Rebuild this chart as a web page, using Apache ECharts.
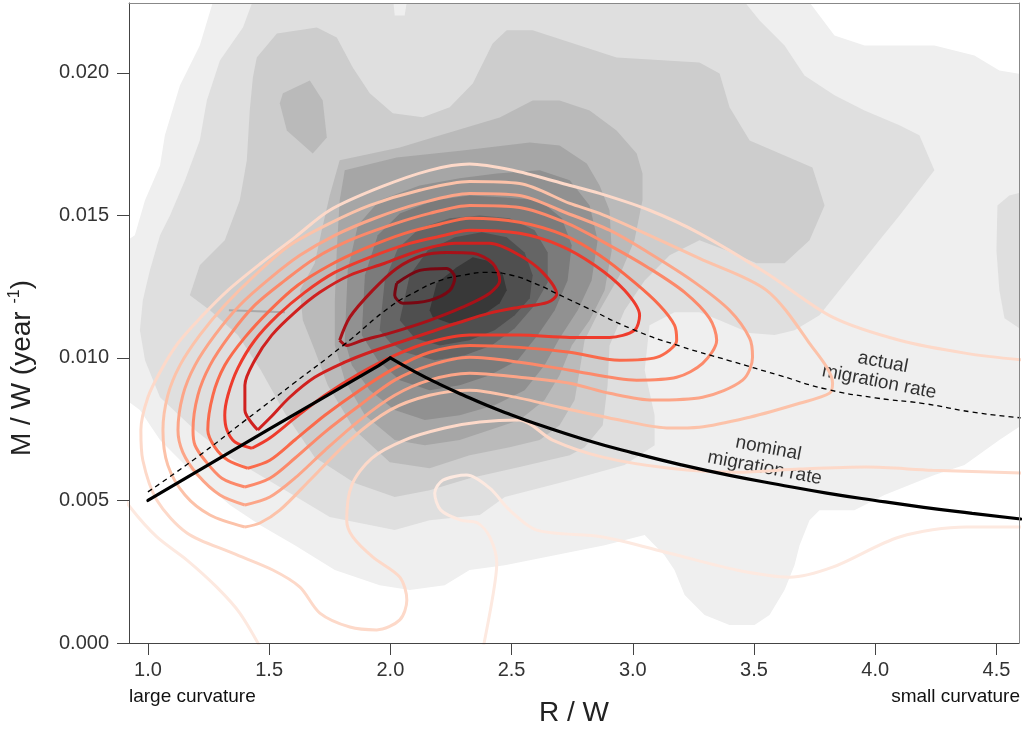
<!DOCTYPE html>
<html>
<head>
<meta charset="utf-8">
<title>Migration rate vs R/W</title>
<script src="https://cdn.jsdelivr.net/npm/echarts@6/dist/echarts.min.js"></script>
<style>
html, body { margin: 0; padding: 0; background: #fff; }
#chart { width: 1027px; height: 732px; }
</style>
</head>
<body>
<div id="chart"></div>
<script>
var xTicks = [1.0, 1.5, 2.0, 2.5, 3.0, 3.5, 4.0, 4.5];
var yTicks = [0, 0.005, 0.010, 0.015, 0.020];

// nominal (solid) and actual (dashed) migration rate
var nominalRW = [1.0, 1.5, 1.95, 2.0, 2.1, 2.2, 2.3, 2.4, 2.5, 2.6, 2.8, 3.0, 3.2, 3.4, 3.6, 3.8, 4.0, 4.2, 4.4, 4.6];
var nominalRate = [0.0050, 0.0075, 0.00972, 0.0100, 0.00952, 0.00909, 0.00870, 0.00833, 0.00800, 0.00769, 0.00714, 0.00667, 0.00625, 0.00588, 0.00556, 0.00526, 0.00500, 0.00476, 0.00455, 0.00435];
var actualRW = [1.0, 1.2, 1.4, 1.6, 1.8, 2.0, 2.1, 2.2, 2.3, 2.4, 2.5, 2.6, 2.7, 2.8, 3.0, 3.2, 3.4, 3.6, 3.8, 4.0, 4.2, 4.4, 4.6];
var actualRate = [0.0053, 0.0065, 0.0078, 0.0091, 0.0104, 0.0118, 0.0123, 0.0127, 0.0129, 0.0130, 0.0129, 0.0126, 0.0122, 0.0118, 0.0110, 0.0104, 0.0099, 0.0094, 0.0089, 0.0086, 0.0084, 0.0081, 0.0079];

// filled gray density levels (outer -> inner)
var gray1 = [[1.276,0.02271],[3.708,0.02271],[3.832,0.02131],[3.956,0.02096],[4.244,0.02096],[4.409,0.02061],[4.512,0.02008],[4.636,0.01991],[4.636,0.00782],[4.512,0.00712],[4.368,0.00624],[4.244,0.00589],[4.038,0.00519],[3.914,0.00466],[3.770,0.00466],[3.729,0.00431],[3.688,0.00343],[3.667,0.00273],[3.626,0.00186],[3.564,0.00098],[3.502,0.00063],[3.399,0.00063],[3.296,0.00098],[3.214,0.00168],[3.172,0.00256],[3.131,0.00308],[3.069,0.00361],[3.049,0.00379],[2.884,0.00343],[2.678,0.00308],[2.472,0.00273],[2.327,0.00256],[2.224,0.00203],[2.080,0.00186],[1.956,0.00203],[1.771,0.00256],[1.606,0.00343],[1.462,0.00414],[1.338,0.00484],[1.194,0.00589],[1.050,0.00712],[0.967,0.00817],[0.885,0.00869],[0.885,0.01395],[0.946,0.01430],[0.988,0.01553],[1.050,0.01675],[1.070,0.01781],[1.132,0.01956],[1.214,0.02096]];
var gray2a = [[1.441,0.02271],[2.010,0.02271],[2.018,0.02201],[2.059,0.02201],[2.072,0.02271],[3.440,0.02271],[3.523,0.02184],[3.626,0.02096],[3.708,0.01991],[3.832,0.01921],[3.956,0.01868],[4.100,0.01816],[4.182,0.01781],[4.244,0.01658],[4.100,0.01500],[4.017,0.01413],[3.935,0.01325],[3.852,0.01237],[3.770,0.01150],[3.667,0.01097],[3.585,0.01080],[3.482,0.01087],[3.358,0.01132],[3.275,0.01160],[3.172,0.01160],[3.069,0.01115],[3.049,0.00957],[3.090,0.00799],[3.090,0.00694],[2.966,0.00624],[2.740,0.00571],[2.472,0.00512],[2.369,0.00449],[2.162,0.00431],[2.018,0.00396],[1.750,0.00442],[1.544,0.00547],[1.338,0.00652],[1.194,0.00747],[1.050,0.00862],[0.988,0.00992],[0.967,0.01097],[0.979,0.01202],[1.008,0.01307],[1.050,0.01430],[1.091,0.01500],[1.153,0.01623],[1.214,0.01763],[1.243,0.01903],[1.297,0.02043],[1.392,0.02159]];
var gray2b = [[4.500,0.01377],[4.504,0.01535],[4.553,0.01570],[4.636,0.01588],[4.636,0.01080],[4.533,0.01139],[4.512,0.01237]];
var gray3 = [[1.433,0.01984],[1.449,0.02054],[1.532,0.02138],[1.697,0.02159],[1.779,0.02124],[1.845,0.02019],[1.915,0.01928],[2.010,0.01858],[2.134,0.01844],[2.245,0.01879],[2.340,0.01963],[2.422,0.02103],[2.480,0.02149],[2.587,0.02149],[2.933,0.02054],[3.275,0.02036],[3.358,0.01998],[3.399,0.01879],[3.482,0.01763],[3.741,0.01668],[3.791,0.01535],[3.729,0.01413],[3.626,0.01332],[3.510,0.01332],[3.387,0.01377],[3.275,0.01413],[3.152,0.01360],[3.049,0.01272],[2.966,0.01167],[2.904,0.01044],[2.896,0.00904],[2.876,0.00764],[2.801,0.00687],[2.740,0.00659],[2.533,0.00617],[2.327,0.00578],[2.162,0.00536],[2.018,0.00512],[1.853,0.00561],[1.688,0.00652],[1.565,0.00806],[1.466,0.00957],[1.371,0.01080],[1.256,0.01167],[1.173,0.01220],[1.214,0.01325],[1.317,0.01413],[1.379,0.01553],[1.408,0.01693],[1.420,0.01868]];
var gray4a = [[1.791,0.01693],[2.039,0.01738],[2.175,0.01773],[2.451,0.01843],[2.587,0.01903],[2.698,0.01903],[2.822,0.01868],[2.933,0.01798],[3.016,0.01717],[3.040,0.01647],[3.040,0.01553],[3.007,0.01413],[2.946,0.01290],[2.863,0.01167],[2.801,0.01062],[2.781,0.00957],[2.760,0.00852],[2.698,0.00764],[2.616,0.00712],[2.492,0.00687],[2.327,0.00659],[2.162,0.00613],[1.998,0.00634],[1.853,0.00747],[1.742,0.00904],[1.688,0.01027],[1.639,0.01132],[1.627,0.01237],[1.688,0.01332],[1.717,0.01448],[1.750,0.01570]];
var gray4b = [[1.557,0.01928],[1.668,0.01973],[1.721,0.01903],[1.738,0.01773],[1.680,0.01717],[1.573,0.01798],[1.544,0.01893]];
var gray5 = [[1.812,0.01658],[2.026,0.01703],[2.298,0.01728],[2.575,0.01756],[2.698,0.01745],[2.810,0.01682],[2.863,0.01605],[2.904,0.01518],[2.913,0.01377],[2.884,0.01237],[2.822,0.01132],[2.748,0.01044],[2.698,0.00939],[2.636,0.00852],[2.533,0.00782],[2.410,0.00747],[2.286,0.00712],[2.142,0.00694],[2.018,0.00712],[1.895,0.00799],[1.812,0.00922],[1.771,0.01044],[1.771,0.01202],[1.779,0.01377],[1.791,0.01553]];
var gray6 = [[1.812,0.01062],[1.824,0.01307],[1.866,0.01465],[1.956,0.01553],[2.121,0.01605],[2.286,0.01630],[2.439,0.01647],[2.616,0.01658],[2.740,0.01623],[2.822,0.01535],[2.855,0.01413],[2.830,0.01272],[2.773,0.01167],[2.698,0.01069],[2.636,0.00974],[2.554,0.00887],[2.430,0.00834],[2.286,0.00799],[2.142,0.00782],[2.018,0.00817],[1.915,0.00887],[1.841,0.00974]];
var gray7 = [[1.882,0.01080],[1.895,0.01290],[1.948,0.01430],[2.039,0.01507],[2.183,0.01553],[2.327,0.01570],[2.472,0.01563],[2.616,0.01553],[2.707,0.01490],[2.748,0.01395],[2.731,0.01272],[2.678,0.01167],[2.608,0.01080],[2.525,0.00992],[2.410,0.00939],[2.286,0.00904],[2.162,0.00887],[2.039,0.00922],[1.948,0.00992]];
var gray8 = [[1.956,0.01097],[1.977,0.01272],[2.031,0.01384],[2.121,0.01455],[2.245,0.01490],[2.369,0.01500],[2.492,0.01490],[2.595,0.01448],[2.649,0.01370],[2.649,0.01265],[2.595,0.01185],[2.513,0.01104],[2.418,0.01044],[2.307,0.01009],[2.183,0.00992],[2.059,0.01020],[1.998,0.01055]];
var gray9 = [[2.039,0.01132],[2.080,0.01290],[2.154,0.01377],[2.266,0.01423],[2.377,0.01441],[2.480,0.01423],[2.554,0.01370],[2.587,0.01290],[2.575,0.01209],[2.513,0.01150],[2.430,0.01097],[2.327,0.01062],[2.204,0.01044],[2.101,0.01069]];
var gray10 = [[2.162,0.01167],[2.191,0.01262],[2.274,0.01318],[2.340,0.01353],[2.397,0.01342],[2.463,0.01297],[2.480,0.01237],[2.451,0.01192],[2.369,0.01143],[2.245,0.01122],[2.175,0.01143]];

// red density contour lines (outer -> inner)
var red0a = [[0.885,0.00536],[0.926,0.00477],[1.037,0.00372],[1.161,0.00291],[1.284,0.00196],[1.379,0.00105],[1.470,-0.00025]];
var red0b = [[2.381,-0.00025],[2.422,0.00161],[2.439,0.00280],[2.410,0.00372],[2.360,0.00421],[2.290,0.00431],[2.208,0.00466],[2.183,0.00526],[2.216,0.00571],[2.315,0.00589],[2.410,0.00543],[2.492,0.00466],[2.604,0.00396],[2.876,0.00372],[3.152,0.00315],[3.428,0.00256],[3.646,0.00231],[3.824,0.00266],[4.100,0.00372],[4.376,0.00407],[4.615,0.00407]];
var red1 = [[4.615,0.00992],[4.376,0.01016],[4.100,0.01062],[3.824,0.01143],[3.552,0.01297],[3.275,0.01437],[3.069,0.01518],[2.863,0.01577],[2.711,0.01612],[2.505,0.01658],[2.327,0.01680],[2.162,0.01658],[1.956,0.01598],[1.750,0.01518],[1.606,0.01423],[1.466,0.01332],[1.330,0.01237],[1.219,0.01143],[1.124,0.01052],[1.054,0.00957],[1.000,0.00862],[0.971,0.00747],[0.979,0.00641],[1.037,0.00501],[1.161,0.00386],[1.350,0.00315],[1.515,0.00256],[1.627,0.00196],[1.709,0.00105],[1.833,0.00056],[1.944,0.00046],[2.039,0.00081],[2.068,0.00151],[2.039,0.00231],[1.928,0.00301],[1.845,0.00372],[1.820,0.00431],[1.841,0.00554],[1.923,0.00648],[2.059,0.00712],[2.224,0.00754],[2.369,0.00775],[2.533,0.00782],[2.669,0.00712],[2.876,0.00652],[3.152,0.00613],[3.428,0.00599],[3.688,0.00610],[3.964,0.00617],[4.236,0.00606],[4.615,0.00596]];
var red2 = [[1.400,0.00407],[1.256,0.00449],[1.153,0.00519],[1.082,0.00624],[1.062,0.00747],[1.082,0.00869],[1.132,0.00974],[1.214,0.01080],[1.317,0.01185],[1.441,0.01290],[1.585,0.01395],[1.750,0.01472],[1.915,0.01535],[2.121,0.01588],[2.327,0.01619],[2.533,0.01612],[2.740,0.01542],[2.863,0.01507],[3.069,0.01430],[3.275,0.01349],[3.552,0.01237],[3.729,0.01051],[3.824,0.00911],[3.811,0.00876],[3.688,0.00841],[3.482,0.00792],[3.275,0.00757],[3.152,0.00754],[2.946,0.00782],[2.698,0.00827],[2.533,0.00859],[2.327,0.00887],[2.162,0.00869],[1.998,0.00817],[1.833,0.00712],[1.668,0.00571],[1.544,0.00466],[1.462,0.00421],[1.400,0.00407]];
var red3 = [[1.400,0.00484],[1.297,0.00519],[1.206,0.00589],[1.144,0.00669],[1.124,0.00747],[1.144,0.00869],[1.194,0.00974],[1.276,0.01080],[1.379,0.01185],[1.503,0.01279],[1.627,0.01360],[1.771,0.01430],[1.936,0.01490],[2.121,0.01542],[2.327,0.01577],[2.533,0.01570],[2.719,0.01511],[2.904,0.01448],[3.069,0.01367],[3.255,0.01265],[3.399,0.01167],[3.482,0.01069],[3.494,0.01002],[3.453,0.00922],[3.288,0.00862],[3.082,0.00852],[2.904,0.00876],[2.740,0.00911],[2.533,0.00932],[2.327,0.00946],[2.162,0.00922],[2.018,0.00869],[1.874,0.00782],[1.730,0.00676],[1.606,0.00578],[1.503,0.00512],[1.400,0.00484]];
var red4 = [[1.400,0.00547],[1.305,0.00578],[1.235,0.00641],[1.194,0.00694],[1.186,0.00747],[1.206,0.00869],[1.256,0.00974],[1.338,0.01080],[1.441,0.01185],[1.565,0.01272],[1.688,0.01349],[1.833,0.01413],[1.998,0.01465],[2.162,0.01507],[2.327,0.01535],[2.533,0.01528],[2.719,0.01476],[2.904,0.01395],[3.069,0.01314],[3.214,0.01230],[3.317,0.01139],[3.346,0.01062],[3.288,0.00981],[3.181,0.00932],[3.016,0.00922],[2.740,0.00957],[2.533,0.00985],[2.327,0.01002],[2.162,0.00974],[2.018,0.00922],[1.874,0.00834],[1.730,0.00740],[1.606,0.00648],[1.503,0.00578],[1.400,0.00547]];
var red5 = [[1.412,0.00613],[1.330,0.00641],[1.276,0.00687],[1.247,0.00747],[1.268,0.00869],[1.317,0.00974],[1.400,0.01072],[1.503,0.01167],[1.618,0.01255],[1.750,0.01325],[1.895,0.01384],[2.059,0.01437],[2.204,0.01469],[2.327,0.01490],[2.533,0.01476],[2.719,0.01430],[2.863,0.01360],[3.007,0.01265],[3.110,0.01185],[3.172,0.01115],[3.181,0.01062],[3.098,0.01002],[2.946,0.00992],[2.740,0.01020],[2.533,0.01037],[2.327,0.01044],[2.162,0.01020],[2.018,0.00964],[1.874,0.00887],[1.730,0.00799],[1.606,0.00712],[1.503,0.00641],[1.412,0.00613]];
var red6 = [[1.429,0.00683],[1.359,0.00705],[1.326,0.00747],[1.317,0.00799],[1.330,0.00869],[1.371,0.00964],[1.441,0.01062],[1.536,0.01150],[1.647,0.01230],[1.771,0.01300],[1.915,0.01353],[2.080,0.01402],[2.224,0.01430],[2.327,0.01448],[2.533,0.01437],[2.698,0.01395],[2.843,0.01325],[2.966,0.01237],[3.028,0.01150],[3.007,0.01097],[2.904,0.01072],[2.740,0.01072],[2.533,0.01080],[2.327,0.01080],[2.162,0.01055],[2.018,0.01009],[1.874,0.00946],[1.730,0.00869],[1.606,0.00789],[1.503,0.00719],[1.429,0.00683]];
var red7 = [[1.453,0.00747],[1.400,0.00817],[1.400,0.00904],[1.441,0.00992],[1.511,0.01080],[1.606,0.01160],[1.709,0.01230],[1.833,0.01290],[1.977,0.01332],[2.121,0.01377],[2.266,0.01402],[2.410,0.01402],[2.533,0.01360],[2.628,0.01300],[2.686,0.01223],[2.649,0.01195],[2.533,0.01178],[2.410,0.01157],[2.286,0.01125],[2.162,0.01090],[2.039,0.01055],[1.915,0.01020],[1.812,0.00985],[1.688,0.00932],[1.585,0.00862],[1.503,0.00789],[1.453,0.00747]];
var red8 = [[1.791,0.01062],[1.833,0.01143],[1.927,0.01237],[2.026,0.01314],[2.134,0.01360],[2.232,0.01370],[2.340,0.01367],[2.422,0.01332],[2.451,0.01272],[2.410,0.01227],[2.298,0.01178],[2.162,0.01132],[1.998,0.01087],[1.886,0.01062],[1.820,0.01044],[1.791,0.01062]];
var red9 = [[2.026,0.01262],[2.121,0.01307],[2.232,0.01314],[2.266,0.01283],[2.245,0.01237],[2.162,0.01202],[2.051,0.01192],[2.018,0.01220],[2.026,0.01262]];
var stray = [[1.334,0.01167],[1.565,0.01160]];

var notes = [['actual\nmigration rate', 4.024, 0.0095], ['nominal\nmigration rate', 3.552, 0.00648]];

var fontFam = '"Liberation Sans", Arial, Helvetica, sans-serif';

function zip(xs, ys) {
    var out = [];
    for (var i = 0; i < xs.length; i++) out.push([xs[i], ys[i]]);
    return out;
}

function polygonSeries(pts, color) {
    return {
        type : 'custom',
        silent : true,
        clip : true,
        data : [0],
        renderItem : function(params, api) {
            var p = pts.map(function(d) { return api.coord(d); });
            return { type : 'polygon', shape : { points : p }, style : { fill : color } };
        }
    };
}

function contourSeries(pts, color, width) {
    return {
        type : 'line',
        silent : true,
        data : pts,
        showSymbol : false,
        smooth : 0.3,
        lineStyle : { color : color, width : width || 3 }
    };
}

var series = [];
[[gray1, '#efefef'], [gray2a, '#dfdfdf'], [gray2b, '#dfdfdf'], [gray3, '#cdcdcd'],
 [gray4a, '#bababa'], [gray4b, '#bababa'], [gray5, '#a6a6a6'], [gray6, '#919191'],
 [gray7, '#7b7b7b'], [gray8, '#656565'], [gray9, '#4f4f4f'], [gray10, '#383838']].forEach(function(g) {
    series.push(polygonSeries(g[0], g[1]));
});
series.push(contourSeries(stray, '#a8a8a8', 2));
[[red0a, '#fde9e0'], [red0b, '#fde9e0'], [red1, '#fdd9c9'], [red2, '#fcc2a9'], [red3, '#fca588'],
 [red4, '#fc896a'], [red5, '#fa6a4b'], [red6, '#ee3b2c'], [red7, '#d0211f'], [red8, '#a81118'],
 [red9, '#780712']].forEach(function(r) {
    series.push(contourSeries(r[0], r[1], 3));
});
series.push({
    type : 'line', silent : true, data : zip(actualRW, actualRate), showSymbol : false, smooth : true,
    lineStyle : { color : '#000', width : 1.3, type : [5, 4] }
});
// nominal rate: straight rise up to the peak, smooth fall after it
var peak = nominalRW.indexOf(2.0);
series.push({
    type : 'line', silent : true, data : zip(nominalRW, nominalRate).slice(0, peak + 1), showSymbol : false,
    lineStyle : { color : '#000', width : 3.2, cap : 'round', join : 'round' }
});
series.push({
    type : 'line', silent : true, data : zip(nominalRW, nominalRate).slice(peak), showSymbol : false, smooth : true,
    lineStyle : { color : '#000', width : 3.2, cap : 'round', join : 'round' }
});
series.push({
    type : 'scatter', silent : true, symbolSize : 0,
    data : notes.map(function(n) {
        return { value : [n[1], n[2]], label : { formatter : n[0] } };
    }),
    label : {
        show : true, position : 'inside', rotate : -11, fontSize : 19, lineHeight : 20,
        color : '#000', textBorderWidth : 0, fontFamily : fontFam, align : 'center'
    }
});

var chart = echarts.init(document.getElementById('chart'));
var option = {
    animation : false,
    textStyle : { fontFamily : fontFam },
    grid : { left : 129, right : 8, top : 3, bottom : 89, containLabel : false },
    xAxis : [ {
        type : 'value', min : 0.922, max : 4.593, z : 10,
        name : 'R / W', nameLocation : 'middle', nameGap : 56,
        nameTextStyle : { fontSize : 28, color : '#222', fontFamily : fontFam },
        splitLine : { show : false },
        axisLine : { show : true, onZero : false, lineStyle : { color : '#444', width : 1 } },
        axisTick : { show : true, length : 12, customValues : xTicks, lineStyle : { color : '#444' } },
        axisLabel : {
            customValues : xTicks, margin : 17, fontSize : 20, color : '#333', fontFamily : fontFam,
            formatter : function(v) { return v.toFixed(1); }
        }
    }, {
        type : 'value', position : 'top', min : 0.922, max : 4.593, z : 10,
        splitLine : { show : false }, axisTick : { show : false }, axisLabel : { show : false },
        axisLine : { show : true, onZero : false, lineStyle : { color : '#888', width : 1 } }
    } ],
    yAxis : [ {
        type : 'value', min : 0, max : 0.02245, z : 10,
        splitLine : { show : false },
        axisLine : { show : true, onZero : false, lineStyle : { color : '#444', width : 1 } },
        axisTick : { show : true, length : 12, customValues : yTicks, lineStyle : { color : '#444' } },
        axisLabel : {
            customValues : yTicks, margin : 20, fontSize : 20, color : '#333', fontFamily : fontFam,
            formatter : function(v) { return v.toFixed(3); }
        }
    }, {
        type : 'value', position : 'right', min : 0, max : 0.02245, z : 10,
        splitLine : { show : false }, axisTick : { show : false }, axisLabel : { show : false },
        axisLine : { show : true, onZero : false, lineStyle : { color : '#888', width : 1 } }
    } ],
    graphic : [ {
        type : 'text', x : 22, y : 368, rotation : Math.PI / 2,
        style : {
            text : 'M / W (year {sup|-1})', fontSize : 28, fontFamily : fontFam, fill : '#222',
            align : 'center', verticalAlign : 'middle', lineHeight : 30,
            rich : { sup : { fontSize : 16, fontFamily : fontFam, verticalAlign : 'top', lineHeight : 30 } }
        }
    }, {
        type : 'text', x : 129, y : 697,
        style : { text : 'large curvature', fontSize : 19, fontFamily : fontFam, fill : '#111', align : 'left', verticalAlign : 'middle' }
    }, {
        type : 'text', x : 1020, y : 697,
        style : { text : 'small curvature', fontSize : 19, fontFamily : fontFam, fill : '#111', align : 'right', verticalAlign : 'middle' }
    } ],
    series : series
};
chart.setOption(option);
</script>
</body>
</html>
